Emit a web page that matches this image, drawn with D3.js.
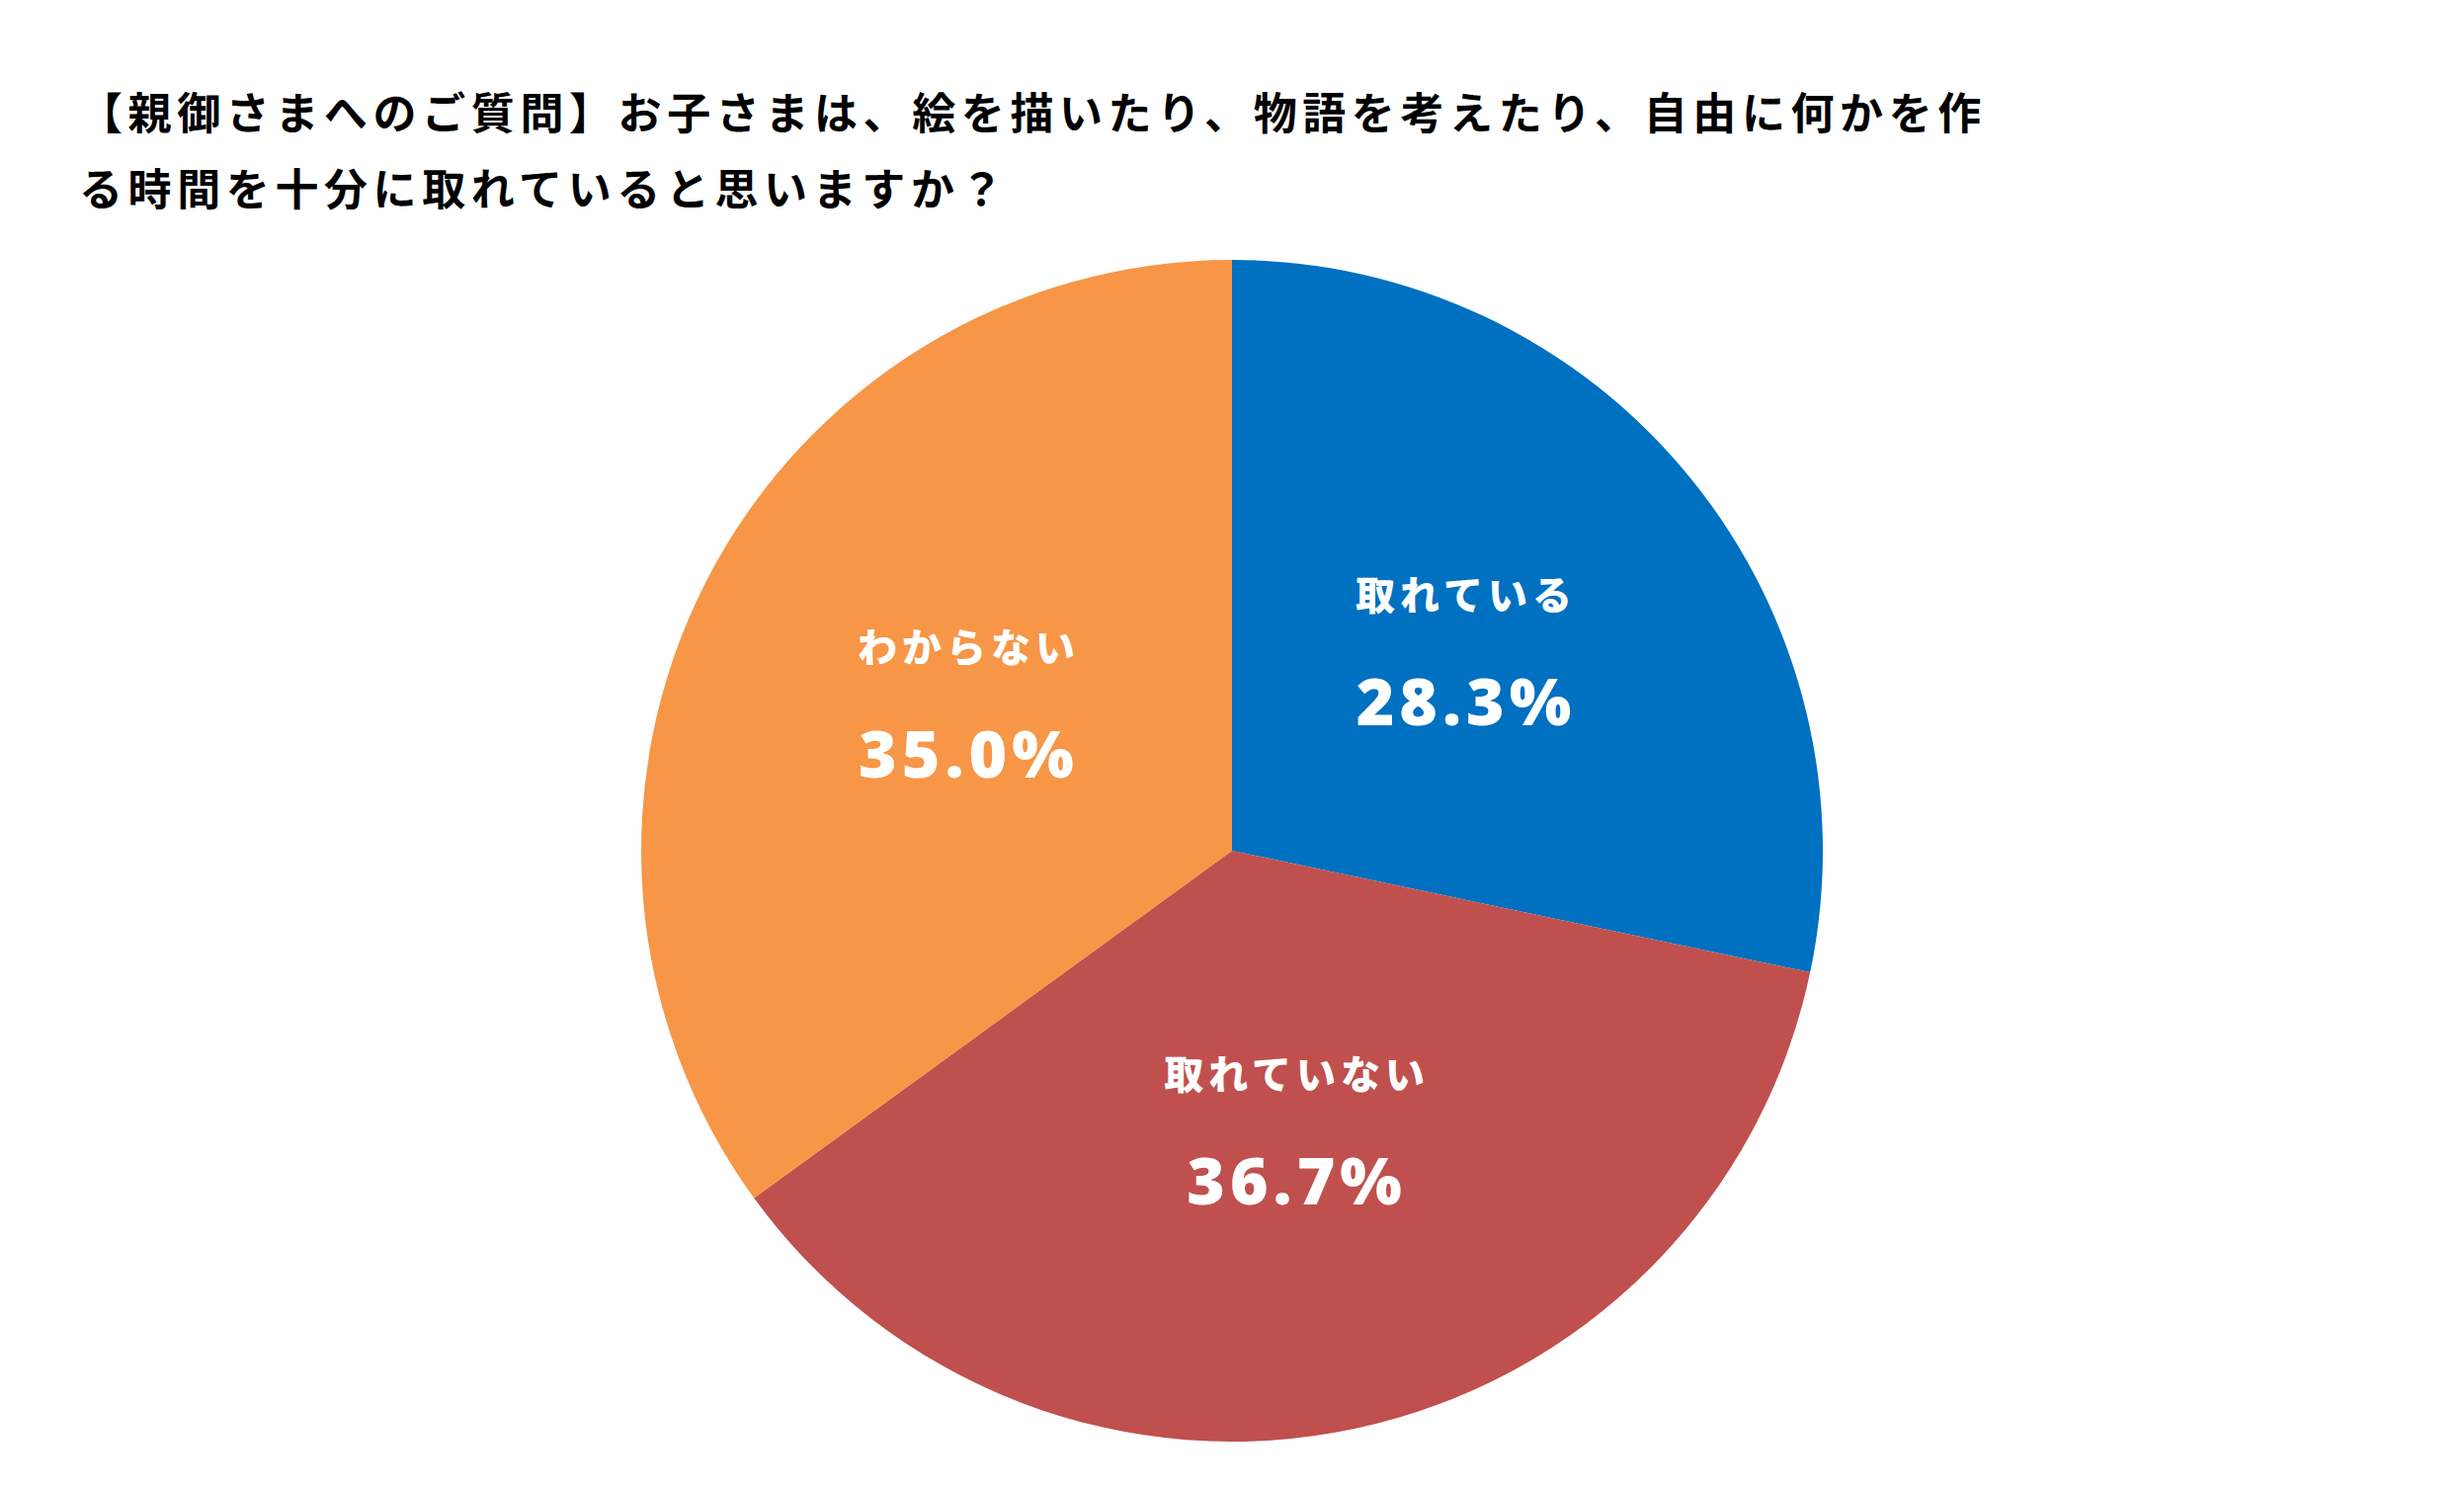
<!DOCTYPE html>
<html>
<head>
<meta charset="utf-8">
<script src="https://cdn.jsdelivr.net/npm/d3@7"></script>
<style>
  html, body { margin: 0; padding: 0; background: #ffffff; }
  svg { display: block; }
</style>
</head>
<body>
<svg id="chart" width="2494" height="1510"></svg>
<script>
// ---- data ----
const titleLines = [
  "【親御さまへのご質問】お子さまは、絵を描いたり、物語を考えたり、自由に何かを作",
  "る時間を十分に取れていると思いますか？"
];
const categories = ["取れている", "取れていない", "わからない"];
const values = [28.3, 36.7, 35.0];
const valueLabels = ["28.3%", "36.7%", "35.0%"];
const colors = ["#0070C0", "#C0504D", "#F79646"];

// ---- layout ----
const W = 2494, H = 1510;
const cx = 1247, cy = 861, R = 598;
const svg = d3.select("#chart");

svg.append("rect").attr("width", W).attr("height", H).attr("fill", "#ffffff");

// title
const title = svg.append("g");
titleLines.forEach((t, i) => {
  title.append("text")
    .attr("x", 80)
    .attr("y", 131 + i * 77)
    .attr("font-family", "'Noto Sans CJK JP', 'Noto Sans', sans-serif")
    .attr("font-weight", 700)
    .attr("font-size", 44)
    .attr("letter-spacing", 5.6)
    .attr("fill", "#000000")
    .text(t);
});

// pie
const data = categories.map((c, i) => ({ cat: c, value: values[i], label: valueLabels[i], color: colors[i] }));
const pie = d3.pie().sort(null).value(d => d.value).startAngle(0).endAngle(2 * Math.PI);
const arcs = pie(data);
const arc = d3.arc().innerRadius(0).outerRadius(R);
const labelArc = d3.arc().innerRadius(R * 1.01).outerRadius(R * 1.01);

const g = svg.append("g").attr("transform", `translate(${cx},${cy})`);
g.selectAll("path.slice")
  .data(arcs)
  .join("path")
  .attr("class", "slice")
  .attr("d", arc)
  .attr("fill", d => d.data.color);

const lab = g.selectAll("g.lab")
  .data(arcs)
  .join("g")
  .attr("class", "lab")
  .attr("transform", d => {
    const [x, y] = labelArc.centroid(d);
    return `translate(${x * 0.5},${y * 0.5})`;
  });

lab.append("text")
  .attr("text-anchor", "middle")
  .attr("x", 2.5)
  .attr("y", -54)
  .attr("font-family", "'Noto Sans CJK JP', sans-serif")
  .attr("font-weight", 900)
  .attr("font-size", 40)
  .attr("letter-spacing", 5)
  .attr("fill", "#ffffff")
  .text(d => d.data.cat);

lab.append("text")
  .attr("text-anchor", "middle")
  .attr("x", 2.5)
  .attr("y", 63)
  .attr("font-family", "'Open Sans', 'Lato', sans-serif")
  .attr("font-weight", 800)
  .attr("font-size", 66)
  .attr("letter-spacing", 5)
  .attr("fill", "#ffffff")
  .text(d => d.data.label);
</script>
</body>
</html>
